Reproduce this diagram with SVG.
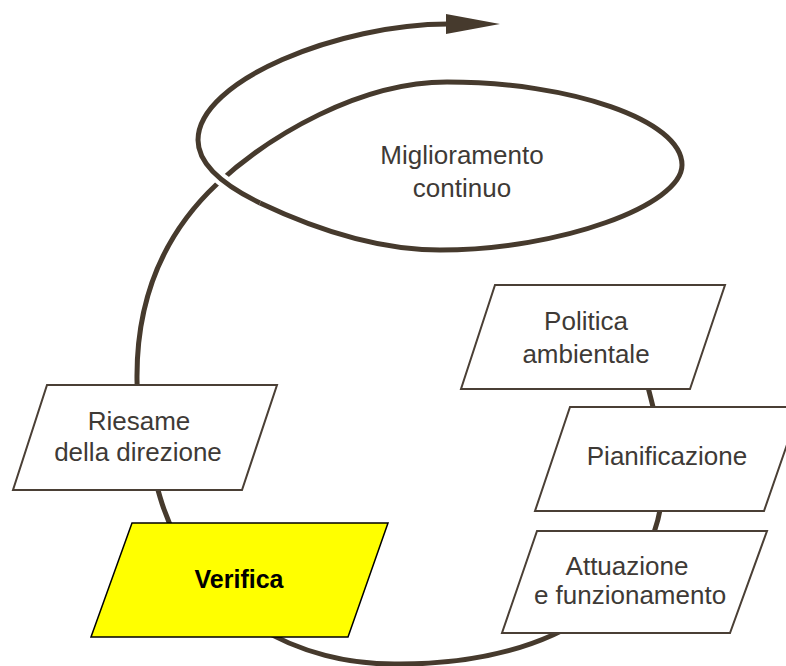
<svg xmlns="http://www.w3.org/2000/svg" width="786" height="666" viewBox="0 0 786 666">
  <style>
    .spiral { fill: none; stroke: #463a2d; stroke-width: 5; stroke-linecap: butt; stroke-linejoin: round; }
    .halo { fill: none; stroke: #ffffff; stroke-width: 13; stroke-linecap: butt; }
    .box { fill: #ffffff; stroke: #4a3f35; stroke-width: 2; stroke-linejoin: miter; }
    .hl { fill: #ffff00; stroke: #000000; stroke-width: 1.5; }
    .lbl { font-family: "Liberation Sans", Arial, Helvetica, sans-serif; font-size: 26px; fill: #3e3a36; text-anchor: middle; }
    .lblb { font-family: "Liberation Sans", Arial, Helvetica, sans-serif; font-size: 25px; font-weight: bold; fill: #000000; text-anchor: middle; }
  </style>
  <rect width="786" height="666" fill="#ffffff"/>

  <!-- continuous-improvement spiral -->
  <g id="connectors">
    <path class="spiral" d="M 625 300
      C 635 350, 663 420, 663 478
      C 663 590, 560 664, 400 664
      C 300 666, 195 615, 160 497
      C 152 470, 137 410, 137 380
      C 136 290, 170 228, 217 184
      C 270 135, 360 82, 447 82
      C 570 82, 682 120, 682 165
      C 682 205, 560 250, 440 250
      C 370 250, 300 222, 260 203
      C 225 186, 198 165, 198 140
      C 198 80, 340 24, 448 24"/>
    <!-- loop passes over the rising stroke -->
    <path class="halo" d="M 260 203 C 225 186, 198 165, 198 140"/>
    <path class="spiral" d="M 260 203 C 225 186, 198 165, 198 140"/>
    <polygon points="446,14 500,24 446,34" fill="#463a2d"/>
  </g>

  <g id="miglioramento">
    <text class="lbl" x="462" y="164">Miglioramento</text>
    <text class="lbl" x="462" y="197">continuo</text>
  </g>

  <g id="politica">
    <polygon class="box" points="495,285 725,285 690,389 461,389"/>
    <text class="lbl" x="586" y="330">Politica</text>
    <text class="lbl" x="586" y="363">ambientale</text>
  </g>

  <g id="pianificazione">
    <polygon class="box" points="570,407 800,407 764,511 535,511"/>
    <text class="lbl" x="667" y="465">Pianificazione</text>
  </g>

  <g id="attuazione">
    <polygon class="box" points="537,531 767,531 730,633 502,633"/>
    <text class="lbl" x="627" y="575">Attuazione</text>
    <text class="lbl" x="630" y="604">e funzionamento</text>
  </g>

  <g id="riesame">
    <polygon class="box" points="47,385 277,385 242,490 13,490"/>
    <text class="lbl" x="139" y="430">Riesame</text>
    <text class="lbl" x="138" y="461">della direzione</text>
  </g>

  <g id="verifica">
    <polygon class="hl" points="132,523 388,523 348,637 91,637"/>
    <text class="lblb" x="239" y="588">Verifica</text>
  </g>
</svg>
